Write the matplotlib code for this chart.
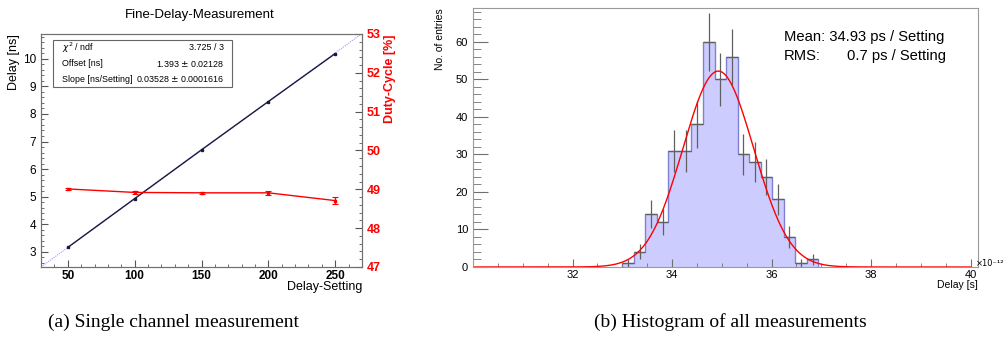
#imports
import numpy as np
import matplotlib
matplotlib.use('Agg')
from matplotlib import pyplot as plt
from matplotlib.patches import Rectangle
from matplotlib.ticker import MultipleLocator

plt.rcParams['font.family'] = ['Liberation Sans', 'DejaVu Sans']

#left plot data: delay vs setting, and duty cycle
settings = [50, 100, 150, 200, 250]
delay_ns = [3.16, 4.93, 6.70, 8.45, 10.19]
delay_err = [0.02, 0.02, 0.02, 0.02, 0.02]
duty_cycle = [49.01, 48.92, 48.91, 48.91, 48.71]
duty_err = [0.02, 0.04, 0.02, 0.05, 0.09]
fit_offset = 1.393
fit_slope = 0.03528

#right plot data: histogram of delay per setting (ps)
bin_lo, bin_hi = 33.0, 36.94
counts = [1, 4, 14, 12, 31, 31, 38, 60, 50, 56, 30, 28, 24, 18, 8, 1, 2]
gaus_amp, gaus_mean, gaus_sigma = 52.2, 34.93, 0.71

frame_col = '#707070'

fig = plt.figure(figsize=(10.06, 3.45), dpi=100)

# ---------- left: Fine-Delay-Measurement ----------
ax = fig.add_axes([0.0408, 0.2261, 0.319, 0.6754])
xfit = np.array([30, 270])
ax.plot(xfit, fit_offset + fit_slope * xfit, color='#9999ff', lw=0.8, dashes=(1, 1))
ax.errorbar(settings, delay_ns, yerr=delay_err, color='#1a1a40', lw=1.0,
            marker='s', ms=1.5, capsize=0)
ax.set_xlim(30, 270)
ax.set_ylim(2.45, 10.9)
ax.xaxis.set_major_locator(MultipleLocator(50))
ax.xaxis.set_minor_locator(MultipleLocator(10))
ax.yaxis.set_major_locator(MultipleLocator(1))
ax.yaxis.set_minor_locator(MultipleLocator(0.2))
ax.tick_params(which='both', direction='in', top=False, right=False, colors='#555555',
               labelcolor='black')
ax.tick_params(which='major', length=5, labelsize=8.5)
ax.tick_params(axis='x', pad=2)
ax.tick_params(which='minor', length=2.5)
for lab in ax.get_xticklabels():
    lab.set_fontweight('bold')
for s in ax.spines.values():
    s.set_color(frame_col)
fig.text(200 / 1006, 1 - 15 / 345, 'Fine-Delay-Measurement', ha='center', va='center',
         fontsize=9.5)
fig.text(0.0408 + 0.319, 1 - 287 / 345, 'Delay-Setting', ha='right', va='center', fontsize=9)
fig.text(14 / 1006, 0.9014, 'Delay [ns]', rotation=90, ha='center', va='top', fontsize=9)

#fit box
ax.add_patch(Rectangle((0.037, 0.773), 0.558, 0.20, transform=ax.transAxes,
                       fill=False, edgecolor='#666666', lw=0.8))
rows = [(r'$\chi^2$ / ndf', '3.725 / 3'),
        ('Offset [ns]', '1.393 $\\pm$ 0.02128'),
        ('Slope [ns/Setting]', '0.03528 $\\pm$ 0.0001616')]
for i, (name, val) in enumerate(rows):
    yy = 0.94 - i * 0.067
    ax.text(0.065, yy, name, transform=ax.transAxes, fontsize=6.4, va='center')
    ax.text(0.57, yy, val, transform=ax.transAxes, fontsize=6.4, va='center', ha='right')

#duty cycle on right axis
ax2 = ax.twinx()
ax2.errorbar(settings, duty_cycle, yerr=duty_err, color='red', lw=1.0,
             marker='s', ms=1.5, capsize=2, capthick=0.8)
ax2.set_ylim(47, 53)
ax2.yaxis.set_major_locator(MultipleLocator(1))
ax2.yaxis.set_minor_locator(MultipleLocator(0.2))
ax2.tick_params(which='both', direction='in', colors='#555555', labelcolor='red')
ax2.tick_params(which='major', length=5, labelsize=9)
ax2.tick_params(which='minor', length=2.5)
for lab in ax2.get_yticklabels():
    lab.set_fontweight('bold')
for s in ax2.spines.values():
    s.set_color(frame_col)
fig.text(390 / 1006, 0.9014, 'Duty-Cycle [%]', rotation=90, ha='center', va='top',
         fontsize=9, color='red', fontweight='bold')

# ---------- right: histogram ----------
hx = fig.add_axes([0.4702, 0.2261, 0.502, 0.7507])
edges = np.linspace(bin_lo, bin_hi, len(counts) + 1)
centers = 0.5 * (edges[:-1] + edges[1:])
hx.stairs(counts, edges, fill=True, facecolor='#ccccff', edgecolor='none')
hx.stairs(counts, edges, color='#8080d0', lw=1.0)
hx.errorbar(centers, counts, yerr=np.sqrt(counts), xerr=0.5 * (edges[1] - edges[0]),
            fmt='none', ecolor='#606060', elinewidth=0.9)
xg = np.linspace(30, 40, 600)
hx.plot(xg, gaus_amp * np.exp(-0.5 * ((xg - gaus_mean) / gaus_sigma) ** 2),
        color='red', lw=1.0)
hx.set_xlim(30, 40.15)
hx.set_ylim(0, 69)
hx.xaxis.set_major_locator(MultipleLocator(2))
hx.xaxis.set_minor_locator(MultipleLocator(0.5))
hx.yaxis.set_major_locator(MultipleLocator(10))
hx.yaxis.set_minor_locator(MultipleLocator(2))
hx.tick_params(which='both', direction='in', top=False, right=False, colors='#707070',
               labelcolor='black', labelsize=8)
hx.tick_params(axis='x', which='major', length=5.8, pad=2)
hx.tick_params(axis='x', which='minor', length=2.9)
hx.tick_params(axis='y', which='major', length=11)
hx.tick_params(axis='y', which='minor', length=6)
hx.set_xticks([32, 34, 36, 38, 40])
for s in hx.spines.values():
    s.set_color('#999999')
hx.text(784 / 1006, 1 - 37 / 345, 'Mean: 34.93 ps / Setting', transform=fig.transFigure,
        fontsize=10.6, va='center')
hx.text(784 / 1006, 1 - 56 / 345, 'RMS:', transform=fig.transFigure, fontsize=10.6,
        va='center')
hx.text(946 / 1006, 1 - 56 / 345, '0.7 ps / Setting', transform=fig.transFigure,
        fontsize=10.6, va='center', ha='right')
fig.text(440 / 1006, 0.9768, 'No. of entries', rotation=90, ha='center', va='top', fontsize=7.5)
fig.text(978 / 1006, 1 - 285 / 345, 'Delay [s]', ha='right', va='center', fontsize=7.5)
fig.text(1004 / 1006, 1 - 264 / 345, '×10⁻¹²', ha='right', va='center', fontsize=6,
         family=['DejaVu Sans'])

#captions
fig.text(174 / 1006, 1 - 322 / 345, '(a) Single channel measurement', ha='center', va='center',
         fontsize=14, family='Liberation Serif')
fig.text(730 / 1006, 1 - 322 / 345, '(b) Histogram of all measurements', ha='center',
         va='center', fontsize=14, family='Liberation Serif')

fig.savefig('out.png', dpi=100)
